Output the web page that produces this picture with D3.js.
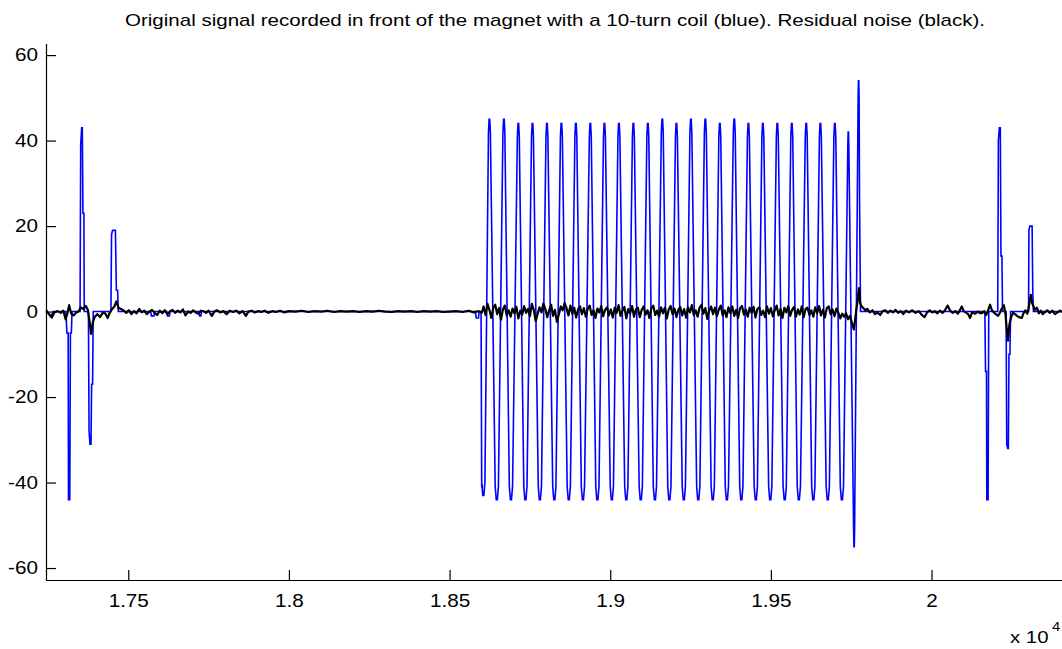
<!DOCTYPE html>
<html><head><meta charset="utf-8">
<script src="https://cdn.jsdelivr.net/npm/d3@7"></script>
<style>body{margin:0;background:#fff}svg{display:block}</style>
</head><body>
<script>
// ---------- data (sample index, value) ----------
const titleText = "Original signal recorded in front of the magnet with a 10-turn coil (blue). Residual noise (black).";
const xTicks = [17500, 18000, 18500, 19000, 19500, 20000];
const xTickLabels = ["1.75", "1.8", "1.85", "1.9", "1.95", "2"];
const yTicks = [60, 40, 20, 0, -20, -40, -60];
const yTickLabels = ["60", "40", "20", "0", "-20", "-40", "-60"];

// blue signal: isolated events (vertices)
const blueBefore = [[17244,0],[17262,-1],[17266,0],[17306,0],[17309,-5],[17313,-5],[17314,-44],[17318,-44],[17320,-5],[17323,-5],[17325,0],
 [17350,0],[17352,39],[17355,43],[17357,43],[17359,23],[17362,23],[17363,0],
 [17376,0],[17378,-28],[17381,-31],[17384,-31],[17386,-17],[17389,-17],[17391,0],
 [17446,0],[17448,18],[17451,19],[17460,19],[17463,5],[17467,5],[17469,0],
 [17570,0],[17572,-1],[17580,-1],[17582,0],[17620,0],[17622,-1],[17628,-1],[17630,0],
 [17720,0],[17722,-1],[17726,-1],[17728,0],
 [18580,0],[18583,-1.5],[18590,-1.5],[18592,0],[18598,0],[18600,-41],[18602,-41]];
// blue burst: extrema (sample, value) alternating trough / peak
const burstExtrema = [[18605,-43],[18624,45],[18647,-44],[18669,45],[18691,-44],[18714,44],[18736,-44],[18758,44],
 [18781,-44],[18803,44],[18826,-44],[18848,44],[18871,-44],[18893,44],[18915,-44],[18938,44],[18960,-44],[18982,44],
 [19005,-44],[19027,44],[19050,-44],[19072,44],[19095,-44],[19117,44],[19139,-44],[19162,45],[19184,-44],[19206,44],
 [19229,-44],[19251,45],[19274,-44],[19296,45],[19319,-44],[19341,44],[19363,-44],[19386,45],[19408,-44],[19430,44],
 [19453,-44],[19475,44],[19498,-44],[19520,44],[19543,-44],[19565,44],[19587,-44],[19610,44],[19632,-44],[19654,44],
 [19677,-44],[19699,44],[19721,-44],[19741,42],[19759,-55],[19773,54]];
const blueAfter = [[19776,25],[19779,0],
 [20166,0],[20168,-14],[20171,-14],[20172,-44],[20176,-44],[20178,0],
 [20206,0],[20208,40],[20211,43],[20214,43],[20216,13],[20219,13],[20221,0],
 [20232,0],[20234,-31],[20237,-32],[20239,-32],[20241,-10],[20244,-10],[20246,0],
 [20302,0],[20303,19],[20306,20],[20313,20],[20315,5],[20317,0],[20406,0]];

// black residual noise (sample, value)
const noise = [[17245,0.3],[17255,-0.8],[17262,-1.4],[17270,-0.2],[17280,0.1],[17290,-0.3],[17298,0.2],[17305,-1.8],[17310,-0.6],[17316,1.5],[17322,-0.4],[17330,-0.9],[17338,-0.2],[17346,0.1],[17352,1.0],[17360,0.6],[17368,1.3],[17374,0.4],[17380,-2.5],[17384,-5.2],[17390,-2.4],[17396,-1.2],[17404,-0.6],[17412,-1.3],[17420,-0.3],[17428,-0.4],[17436,-1.5],[17442,-0.3],[17450,0.6],[17457,1.2],[17463,2.4],[17470,0.8],[17478,0.6],[17486,0.2],[17494,-0.3],[17502,0.3],[17510,-0.6],[17518,0.1],[17526,-0.4],[17534,0.6],[17542,-0.2],[17550,0.2],[17558,-0.6],[17566,0.0],[17574,0.4],[17582,-0.3],[17590,-0.8],[17598,0.2],[17606,-0.4],[17614,0.3],[17622,-0.6],[17630,0.1],[17638,0.4],[17646,-0.3],[17654,0.2],[17662,-0.2],[17670,0.5],[17678,-0.9],[17686,0.0],[17694,-0.3],[17702,0.3],[17710,-0.2],[17718,-0.5],[17726,0.2],[17734,0.1],[17742,-0.3],[17750,0.2],[17760,-1.0],[17768,0.0],[17776,0.3],[17786,-0.2],[17796,0.1],[17806,-0.6],[17816,0.2],[17826,-0.1],[17836,0.2],[17846,-0.4],[17856,0.1],[17866,-1.0],[17874,0.0],[17884,0.2],[17894,-0.2],[17904,0.1],[17914,-0.1],[17924,0.2],[17936,-0.3],[17948,0.1],[17960,-0.1],[17972,0.2],[17986,-0.2],[18000,0.1],[18020,0.0],[18040,0.2],[18060,-0.1],[18080,0.1],[18100,0.0],[18120,0.2],[18140,-0.1],[18160,0.1],[18180,0.0],[18200,0.1],[18220,-0.1],[18240,0.1],[18260,0.0],[18280,0.2],[18300,0.0],[18320,-0.1],[18340,0.1],[18360,0.0],[18380,0.1],[18400,-0.1],[18420,0.1],[18440,0.0],[18460,0.1],[18480,-0.1],[18500,0.0],[18520,0.1],[18540,-0.1],[18560,0.2],[18575,-0.2],[18590,0.1],[18600,-0.3],
 [18606,1.2],[18612,-0.8],[18618,1.8],[18624,0.4],[18630,-1.5],[18636,0.9],[18642,1.6],[18648,-0.6],[18654,0.8],[18660,-1.9],[18666,0.5],[18672,1.4],[18678,-0.9],[18684,0.3],[18690,-1.2],[18696,0.7],[18702,-0.4],[18708,1.1],[18714,-1.6],[18720,0.2],[18726,-0.7],[18732,1.3],[18738,-0.3],[18744,0.6],[18750,-1.1],[18756,1.8],[18762,0.4],[18768,-2.2],[18774,-0.6],[18780,1.0],[18786,-0.2],[18792,1.9],[18798,0.6],[18804,-1.3],[18810,0.3],[18816,1.6],[18822,-1.0],[18828,0.4],[18834,-2.4],[18840,-0.7],[18846,1.2],[18852,0.3],[18858,2.0],[18864,0.8],[18870,-0.9],[18876,1.4],[18882,-0.5],[18888,0.9],[18894,-1.4],[18900,0.5],[18906,1.2],[18912,-0.6],[18918,0.8],[18924,-1.2],[18930,0.6],[18936,1.4],[18942,-0.8],[18948,0.3],[18954,-1.5],[18960,0.7],[18966,-0.2],[18972,1.3],[18978,-1.1],[18984,0.4],[18990,1.0],[18996,-0.9],[19002,0.5],[19008,-1.4],[19014,0.9],[19020,-0.3],[19026,1.5],[19032,-1.0],[19038,0.2],[19044,1.1],[19050,-1.6],[19056,0.6],[19062,-0.4],[19068,1.3],[19074,-1.2],[19080,0.5],[19086,0.9],[19092,-1.3],[19098,0.4],[19104,1.2],[19110,-0.7],[19116,0.3],[19122,-1.5],[19128,0.8],[19134,1.4],[19140,-0.8],[19146,0.2],[19152,-1.2],[19158,1.0],[19164,-0.4],[19170,0.9],[19176,-1.6],[19182,0.5],[19188,1.3],[19194,-0.6],[19200,0.7],[19206,-1.3],[19212,0.4],[19218,1.1],[19224,-0.9],[19230,0.6],[19236,-1.4],[19242,1.0],[19248,-0.2],[19254,1.5],[19260,-0.8],[19266,0.3],[19272,-1.2],[19278,0.9],[19284,1.6],[19290,-0.5],[19296,0.8],[19302,-1.7],[19308,0.2],[19314,1.2],[19320,-0.6],[19326,0.9],[19332,-1.1],[19338,0.5],[19344,1.4],[19350,-0.9],[19356,0.3],[19362,-1.3],[19368,1.0],[19374,-0.4],[19380,1.2],[19386,-1.0],[19392,0.4],[19398,-1.5],[19404,0.8],[19410,1.3],[19416,-0.7],[19422,0.5],[19428,-1.2],[19434,0.9],[19440,-0.3],[19446,1.1],[19452,-1.4],[19458,0.6],[19464,1.0],[19470,-0.8],[19476,0.2],[19482,-1.3],[19488,1.2],[19494,-0.5],[19500,0.8],[19506,-1.1],[19512,0.3],[19518,1.4],[19524,-0.9],[19530,0.6],[19536,-1.5],[19542,0.9],[19548,-0.2],[19554,1.3],[19560,-1.0],[19566,0.4],[19572,1.1],[19578,-1.2],[19584,0.5],[19590,-0.7],[19596,1.2],[19602,-1.3],[19608,0.6],[19614,0.9],[19620,-0.8],[19626,0.3],[19632,-1.2],[19638,1.0],[19644,-0.4],[19650,1.3],[19656,-0.9],[19662,0.4],[19668,-1.4],[19674,0.8],[19680,1.2],[19686,-0.6],[19692,0.5],[19698,-1.1],[19704,0.7],[19710,-0.3],[19716,-1.6],[19722,-0.5],[19728,-1.2],[19734,-0.4],[19740,-1.8],[19746,-1.0],[19752,-2.6],[19758,-4.2],[19762,-2.0],[19766,0.5],[19770,2.5],[19774,5.5],[19778,2.0],[19782,1.2],[19788,0.8],[19794,0.3],[19800,0.6],
 [19808,-0.2],[19816,0.3],[19824,-0.6],[19832,-0.2],[19840,-0.8],[19848,0.1],[19856,0.3],[19864,-0.3],[19872,0.2],[19880,-0.2],[19888,0.4],[19896,-0.3],[19904,0.1],[19912,-0.6],[19920,0.2],[19930,-0.2],[19940,0.3],[19950,-0.3],[19960,0.1],[19970,-0.8],[19978,-1.3],[19986,-0.2],[19994,0.3],[20002,-0.2],[20010,0.1],[20018,-0.4],[20026,0.2],[20034,-0.3],[20042,0.3],[20050,1.4],[20058,0.2],[20066,-0.3],[20074,0.1],[20082,-0.5],[20088,0.3],[20094,1.2],[20100,0.1],[20106,-0.2],[20114,-0.6],[20120,-1.5],[20126,-0.2],[20136,-0.5],[20144,0.0],[20152,-0.4],[20158,-0.3],[20164,0.1],[20170,-0.8],[20176,0.3],[20182,1.6],[20188,0.3],[20194,-0.2],[20200,-0.6],[20207,-1.0],[20212,-0.4],[20218,0.6],[20225,1.5],[20230,-0.5],[20234,-4.0],[20238,-6.8],[20242,-3.2],[20248,-1.2],[20254,-0.3],[20260,-0.6],[20266,-1.0],[20272,-1.3],[20281,-1.5],[20286,-0.4],[20292,0.3],[20298,-0.5],[20302,0.8],[20306,2.6],[20309,3.9],[20313,2.0],[20318,1.1],[20322,0.4],[20328,0.9],[20334,-0.4],[20340,0.2],[20346,-0.6],[20352,-0.2],[20360,0.3],[20368,-0.3],[20376,0.2],[20384,-0.6],[20392,-0.2],[20400,0.2],[20406,-0.1]];

// ---------- drawing ----------
const W = 1062, H = 649;
const svg = d3.select("body").append("svg").attr("width", W).attr("height", H);
const x = d3.scaleLinear().domain([17244, 20406]).range([46, 1062]);
const y = d3.scaleLinear().domain([-62.8, 62.6]).range([580, 44]);

// burst plateaus (drawing widths in samples)
const peakHalf = 3, troughHalf = 5;
const burstPts = [];
burstExtrema.forEach(([s, v], i) => {
  const h = v > 0 ? peakHalf : troughHalf;
  const last = i >= burstExtrema.length - 3;
  const hh = last ? 1.5 : h;
  burstPts.push([s - hh, v * 0.93], [s - hh / 3, v], [s + hh / 3, v], [s + hh, v * 0.93]);
});
const blue = blueBefore.concat(burstPts, blueAfter);

const line = d3.line().x(d => x(d[0])).y(d => y(d[1]));
const g = svg.append("g");
g.append("path").datum(blue).attr("d", line).attr("fill", "none")
  .attr("stroke", "#0000ff").attr("stroke-width", 1.6).attr("stroke-linejoin", "miter");
g.append("path").datum(noise).attr("d", line).attr("fill", "none")
  .attr("stroke", "#000").attr("stroke-width", 2.2).attr("stroke-linejoin", "round");

// axes (ticks pointing inward)
const font = "'Liberation Sans', Arial, sans-serif";
const xAxis = d3.axisBottom(x).tickValues(xTicks).tickSizeInner(-10).tickSizeOuter(0)
  .tickPadding(14).tickFormat((d, i) => xTickLabels[i]);
const gx = svg.append("g").attr("transform", "translate(0,580)").call(xAxis);
gx.select(".domain").attr("stroke", "#000").attr("stroke-width", 1.2).attr("d", "M46,0.5H1062");
gx.selectAll(".tick line").attr("stroke", "#000").attr("stroke-width", 1.2);
gx.selectAll("text").attr("font-family", font).attr("font-size", 18).attr("fill", "#000")
  .attr("dy", "0.71em").attr("transform", "scale(1.15,1)");

const yAxis = d3.axisLeft(y).tickValues(yTicks).tickSizeInner(-10).tickSizeOuter(0)
  .tickPadding(7).tickFormat((d, i) => yTickLabels[i]);
const gy = svg.append("g").attr("transform", "translate(46,0)").call(yAxis);
gy.select(".domain").attr("stroke", "#000").attr("stroke-width", 1.2).attr("d", "M0.5,44V580");
gy.selectAll(".tick line").attr("stroke", "#000").attr("stroke-width", 1.2);
gy.selectAll("text").attr("font-family", font).attr("font-size", 18).attr("fill", "#000")
  .attr("transform", "scale(1.15,1)");

// exponent label
svg.append("text").attr("transform", "translate(1010,643) scale(1.2,1)").attr("font-family", font)
  .attr("font-size", 17).attr("fill", "#000").text("x 10");
svg.append("text").attr("transform", "translate(1052,631) scale(1.15,1)").attr("font-family", font)
  .attr("font-size", 13).attr("fill", "#000").text("4");

// title
svg.append("text").attr("x", 555).attr("y", 26).attr("text-anchor", "middle")
  .attr("font-family", font)
  .attr("font-size", 17).attr("fill", "#000")
  .attr("textLength", 860).attr("lengthAdjust", "spacingAndGlyphs").text(titleText);
</script>
</body></html>
